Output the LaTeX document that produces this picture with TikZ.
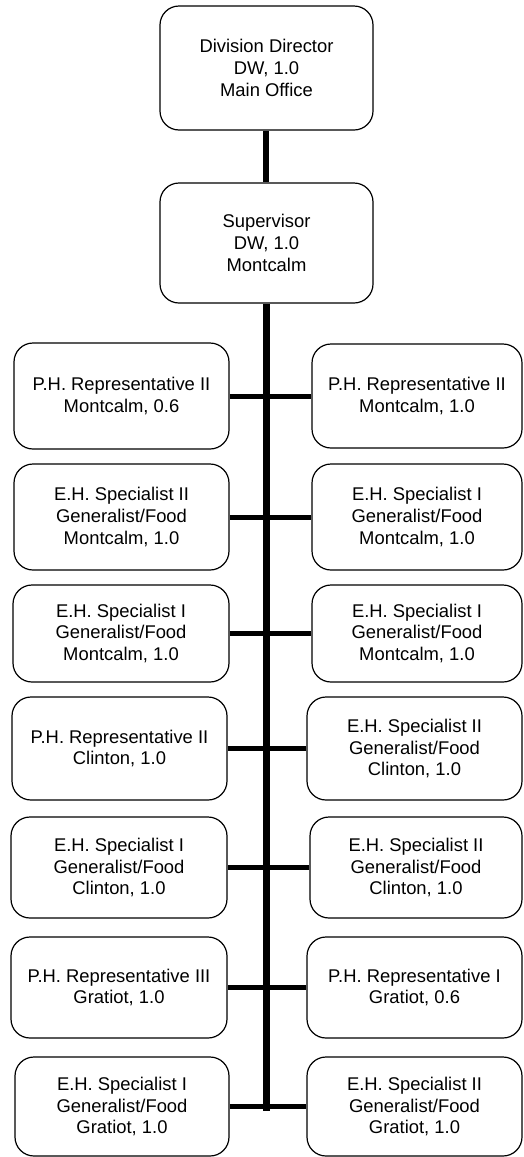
\documentclass[tikz,border=0pt]{standalone}
\usepackage{fontspec}
\setmainfont{Liberation Sans}
\newcommand{\orgbox}[6]{%
  \node[box, minimum width={(#4-#2)*1pt}, minimum height={(#5-#3)*1pt}] (#1) at ({(#2+#4)/2},{(#3+#5)/2}) {#6};}
\begin{document}
\begin{tikzpicture}[x=1pt,y=-1pt,
  box/.style={draw, line width=1.2pt, rounded corners=19pt, align=center, inner sep=0pt,
    font=\fontsize{18.4}{21.7}\selectfont, fill=white},
  trunk/.style={line width=7pt},
  topline/.style={line width=6pt},
  branch/.style={line width=5pt}]
\useasboundingbox (0,0) rectangle (524,1157);
% top boxes
\orgbox{dir}{160}{6}{373}{130}{Division Director\\DW, 1.0\\Main Office}
\orgbox{sup}{160}{183}{373}{303}{Supervisor\\DW, 1.0\\Montcalm}
% row 1
\orgbox{l1}{14}{343}{229}{449}{P.H. Representative II\\Montcalm, 0.6}
\orgbox{r1}{312}{344}{522}{448}{P.H. Representative II\\Montcalm, 1.0}
% row 2
\orgbox{l2}{14}{464}{229}{570}{E.H. Specialist II\\Generalist/Food\\Montcalm, 1.0}
\orgbox{r2}{312}{464}{522}{570}{E.H. Specialist I\\Generalist/Food\\Montcalm, 1.0}
% row 3
\orgbox{l3}{13}{585}{229}{682}{E.H. Specialist I\\Generalist/Food\\Montcalm, 1.0}
\orgbox{r3}{312}{585}{522}{682}{E.H. Specialist I\\Generalist/Food\\Montcalm, 1.0}
% row 4
\orgbox{l4}{12}{697}{227}{800}{P.H. Representative II\\Clinton, 1.0}
\orgbox{r4}{307}{697}{522}{800}{E.H. Specialist II\\Generalist/Food\\Clinton, 1.0}
% row 5
\orgbox{l5}{11}{817}{227}{918}{E.H. Specialist I\\Generalist/Food\\Clinton, 1.0}
\orgbox{r5}{310}{817}{522}{918}{E.H. Specialist II\\Generalist/Food\\Clinton, 1.0}
% row 6
\orgbox{l6}{11}{937}{227}{1038}{P.H. Representative III\\Gratiot, 1.0}
\orgbox{r6}{307}{937}{522}{1038}{P.H. Representative I\\Gratiot, 0.6}
% row 7
\orgbox{l7}{15}{1057}{229}{1156}{E.H. Specialist I\\Generalist/Food\\Gratiot, 1.0}
\orgbox{r7}{307}{1057}{522}{1156}{E.H. Specialist II\\Generalist/Food\\Gratiot, 1.0}
% connectors
\coordinate (trunkend) at (266,1111);
\draw[topline] (dir.south -| trunkend) -- (sup.north -| trunkend);
\draw[trunk] (sup.south -| trunkend) -- (trunkend);
\foreach \i in {1,...,7}{
  \draw[branch] (l\i.east) -- (r\i.west |- l\i.east);
}
\end{tikzpicture}
\end{document}
